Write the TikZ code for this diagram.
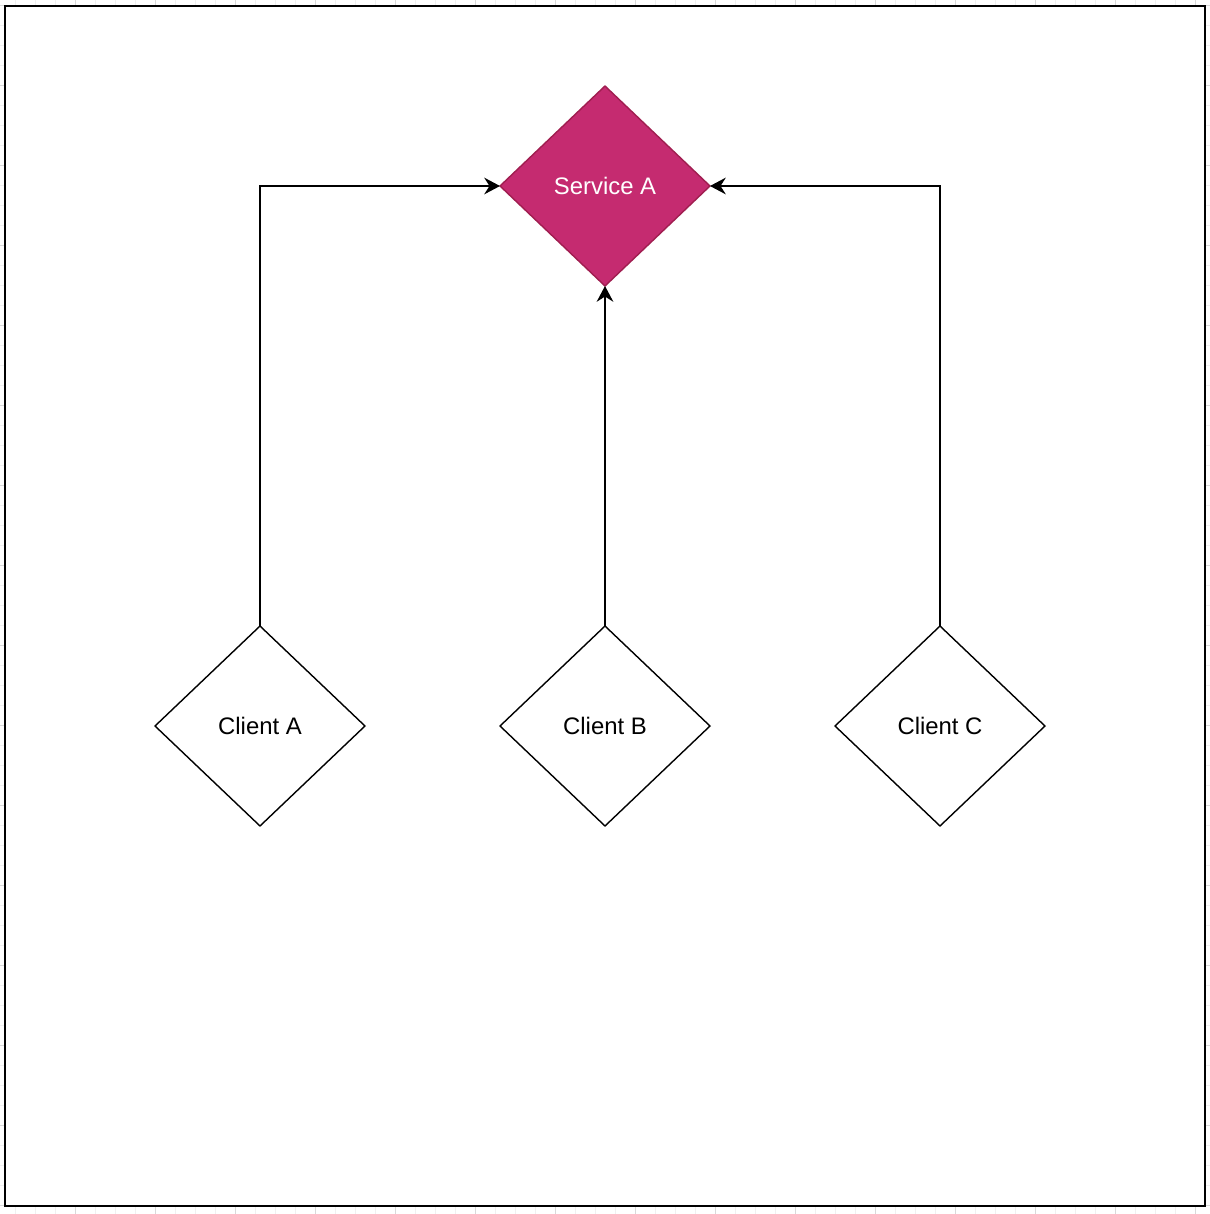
\documentclass[tikz,border=0pt]{standalone}
\usepackage{fontspec}
\setmainfont{Liberation Sans}
\usetikzlibrary{shapes.geometric,arrows.meta}
\definecolor{svcfill}{RGB}{197,43,112}
\definecolor{svcline}{RGB}{160,30,80}

\begin{document}
\begin{tikzpicture}[x=0.02cm, y=-0.02cm,
  every node/.style={font=\fontsize{13.6pt}{16pt}\selectfont, outer sep=0pt, inner sep=0pt},
  box/.style={diamond, draw=black, line width=0.8pt, fill=white, minimum width=4.2cm, minimum height=4cm},
  svcbox/.style={box, draw=svcline, fill=svcfill, text=white},
  link/.style={draw=black, line width=0.8pt, -{Stealth[length=9pt, width=9.5pt, inset=3pt]}},
  gridminor/.style={draw=black!6, line width=0.5pt},
  gridmajor/.style={draw=black!15, line width=0.5pt}]
\useasboundingbox (0,0) rectangle (1210,1214);
\foreach \x in {15,35,...,1205} \draw[gridminor] (\x,0) -- (\x,1214);
\foreach \y in {5,25,...,1214} \draw[gridminor] (0,\y) -- (1210,\y);
\foreach \x in {75,155,...,1205} \draw[gridmajor] (\x,0) -- (\x,1214);
\foreach \y in {5,85,...,1214} \draw[gridmajor] (0,\y) -- (1210,\y);
\draw[fill=white, line width=1.2pt] (5,6) rectangle (1205,1206);

\node[svcbox] (svcA) at (605,186) {Service A};
\node[box] (clientA) at (260,726) {Client A};
\node[box] (clientB) at (605,726) {Client B};
\node[box] (clientC) at (940,726) {Client C};

\draw[link] (clientA.north) |- (svcA.west);
\draw[link] (clientB.north) -- (svcA.south);
\draw[link] (clientC.north) |- (svcA.east);
\end{tikzpicture}
\end{document}
